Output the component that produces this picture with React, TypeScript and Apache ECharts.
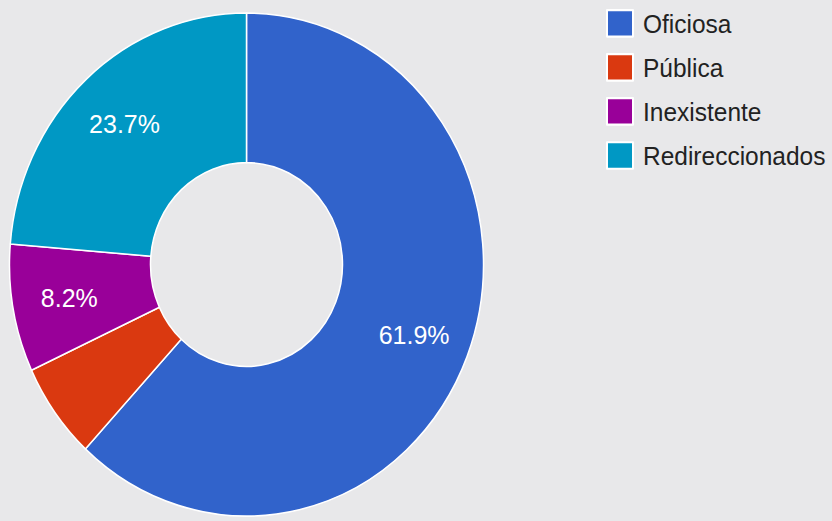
import React, { useEffect, useRef } from "react";
import * as echarts from "echarts";

const categories = ["Oficiosa", "Pública", "Inexistente", "Redireccionados"];
const values = [61.9, 6.2, 8.2, 23.7];
const colors = ["#3163cb", "#da3910", "#990099", "#0098c4"];
const hiddenLabelBelow = 7;

const STRETCH = 521 / 491;

export default function App() {
  const ref = useRef<HTMLDivElement>(null);

  useEffect(() => {
    document.body.style.margin = "0";
    document.body.style.background = "#e8e8ea";
    const chart = echarts.init(ref.current!, undefined, { renderer: "svg" });
    const mainData = categories.map((name, i) => ({
      name,
      value: values[i],
      itemStyle: { color: colors[i] },
    }));
    const labelData = categories.map((name, i) => ({
      name,
      value: values[i],
      label: { show: values[i] >= hiddenLabelBelow },
    }));
    chart.setOption({
      animation: false,
      backgroundColor: "#e8e8ea",
      legend: {
        orient: "vertical",
        left: 606,
        top: 8.5,
        padding: 0,
        itemWidth: 26,
        itemHeight: 25,
        itemGap: 14.5,
        icon: "rect",
        data: categories,
        textStyle: {
          fontFamily: "Liberation Sans, Arial, sans-serif",
          fontSize: 24.5,
          lineHeight: 25,
          color: "#222222",
          padding: [0, 0, 0, 5],
        },
      },
      series: [
        {
          type: "pie",
          center: [246.5, 249.3],
          radius: [96, 237],
          startAngle: 90,
          clockwise: true,
          silent: true,
          label: { show: false },
          labelLine: { show: false },
          itemStyle: { borderColor: "#ffffff", borderWidth: 1.5 },
          data: mainData,
        },
        {
          type: "pie",
          center: [246.5, 249.3],
          radius: [96, 258],
          startAngle: 90,
          clockwise: true,
          silent: true,
          itemStyle: { color: "rgba(0,0,0,0)" },
          labelLine: { show: false },
          label: {
            position: "inside",
            color: "#ffffff",
            fontFamily: "Liberation Sans, Arial, sans-serif",
            fontSize: 25,
            formatter: (p: any) => Number(p.value).toFixed(1) + "%",
          },
          data: labelData,
        },
      ],
    });
    return () => chart.dispose();
  }, []);

  return (
    <div
      style={{
        position: "fixed",
        left: 0,
        top: 0,
        width: 832,
        height: 521,
        overflow: "hidden",
        background: "#e8e8ea",
      }}
    >
      <div
        ref={ref}
        style={{
          width: 832,
          height: 491,
          transform: `scaleY(${STRETCH})`,
          transformOrigin: "0 0",
        }}
      />
    </div>
  );
}
